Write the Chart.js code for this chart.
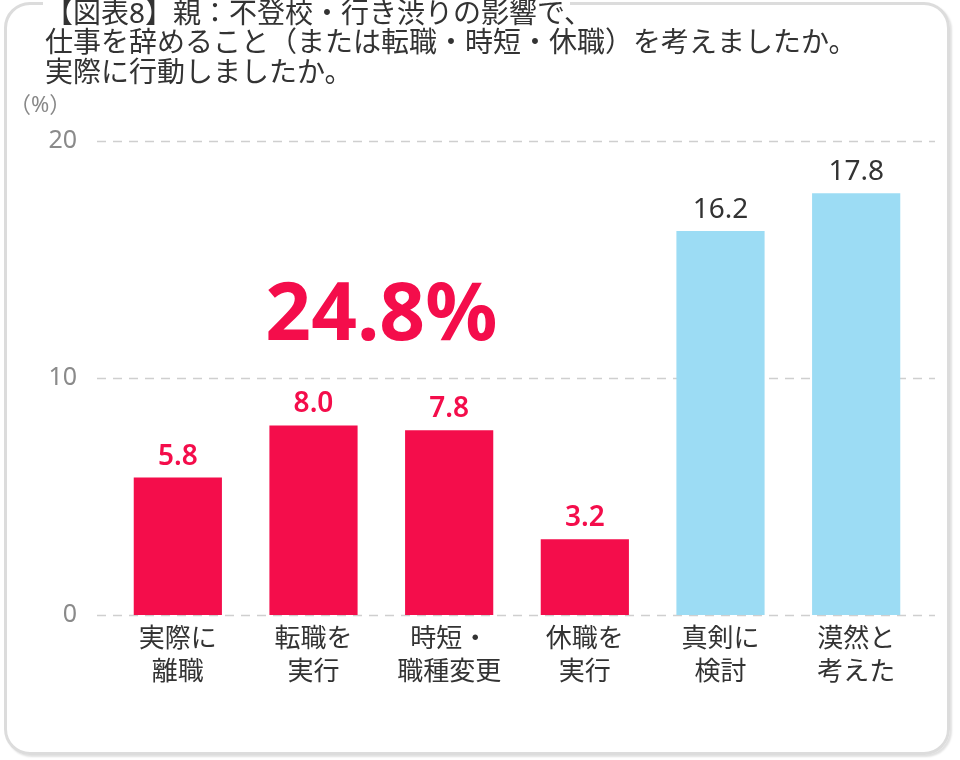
<!DOCTYPE html>
<html lang="ja">
<head>
<meta charset="utf-8">
<script src="https://cdn.jsdelivr.net/npm/chart.js@4"></script>
<style>
 html, body { margin: 0; padding: 0; background: #fff; }
 #cadre { position: absolute; left: 4px; top: 2px; width: 946px; height: 753px; box-sizing: border-box;
          border: 3px solid #dcdcdc; border-radius: 26px; box-shadow: 2px 2px 2px rgba(0,0,0,0.12); }
 #zone  { position: absolute; left: 0; top: 0; width: 960px; height: 760px; }
</style>
</head>
<body>
<div id="cadre"></div>
<div id="zone"><canvas id="idGraphe"></canvas></div>
<script>
/********************************* Données du graphe **************************************************************************/
 var titre      = [ "【図表8】親：不登校・行き渋りの影響で、",
                    "仕事を辞めること（または転職・時短・休職）を考えましたか。",
                    "実際に行動しましたか。" ];
 var unite      = "（%）";
 var categories = [ [ "実際に", "離職" ], [ "転職を", "実行" ], [ "時短・", "職種変更" ],
                    [ "休職を", "実行" ], [ "真剣に", "検討" ], [ "漠然と", "考えた" ] ];
 var valeurs    = [ 5.8, 8.0, 7.8, 3.2, 16.2, 17.8 ];
 var agi        = [ true, true, true, true, false, false ];               /* true = a réellement agi, false = a seulement envisagé */
 var ticks_y    = [ 0, 10, 20 ];

 var ROUGE = "#f40d4b";
 var BLEU  = "#9cdcf4";
 var FONTE = '"Noto Sans", "Noto Sans CJK JP", sans-serif';

/********************************* Lignes pointillées de la grille (débordent un peu de la zone) ******************************/
 var grille_plugin =
  { id: "grille",
    beforeDraw: function (chart)
     { var ctx = chart.ctx;
       ctx.save();
       ctx.fillStyle = "#fff";                                              /* Le titre masque le haut du cadre */
       ctx.fillRect ( 43, 0, 527, 9 );
       ctx.restore();
     },
    beforeDatasetsDraw: function (chart)
     { var ctx = chart.ctx, y = chart.scales.y, area = chart.chartArea;
       ctx.save();
       ctx.strokeStyle = "#cfcfcf";
       ctx.lineWidth = 1.5;
       ctx.setLineDash ( [ 9, 7 ] );
       ticks_y.forEach ( function (v)
        { var py = Math.round(y.getPixelForValue(v)) + 0.5;
          ctx.beginPath(); ctx.moveTo ( area.left - 13, py ); ctx.lineTo ( area.right + 11, py ); ctx.stroke();
        });
       ctx.restore();
     }
  };

/********************************* Valeurs au dessus des barres + total + unité ***********************************************/
 var etiquettes_plugin =
  { id: "etiquettes",
    afterDatasetsDraw: function (chart)
     { var ctx = chart.ctx, meta = chart.getDatasetMeta(0), x = chart.scales.x, y = chart.scales.y;
       ctx.save();
       ctx.textAlign = "center";
       ctx.textBaseline = "alphabetic";
       meta.data.forEach ( function (bar, i)
        { ctx.fillStyle = agi[i] ? ROUGE : "#333";
          ctx.font = (agi[i] ? "600 " : "400 ") + "28px " + FONTE;
          ctx.fillText ( valeurs[i].toFixed(1), bar.x, bar.y - 13 );
        });

       var total = 0, somme_x = 0, nb = 0;                                     /* Total de ceux qui ont agi */
       for (var i=0; i<valeurs.length; i++)
        { if (!agi[i]) continue;
          total += valeurs[i]; somme_x += x.getPixelForValue(i); nb++;
        }
       ctx.fillStyle = ROUGE;
       ctx.font = "700 80px " + FONTE;
       ctx.fillText ( total.toFixed(1) + "%", somme_x / nb, y.getPixelForValue(11.6) );

       ctx.fillStyle = "#888";
       ctx.font = "400 22px " + FONTE;
       ctx.textAlign = "left";
       ctx.textBaseline = "middle";
       ctx.fillText ( unite, 9, 106 );
       ctx.restore();
     }
  };

/********************************* Création du graphe *************************************************************************/
 var data = { labels: categories,
              datasets: [ { data: valeurs,
                            backgroundColor: agi.map( function (a) { return( a ? ROUGE : BLEU ); } ),
                            borderWidth: 0,
                            barPercentage: 0.65,
                            categoryPercentage: 1.0
                          } ]
            };

 var options = { responsive: true,
                 maintainAspectRatio: false,
                 animation: false,
                 layout: { padding: { left: 45, right: 36, top: 0, bottom: 0 } },
                 scales: { x: { grid: { display: false }, border: { display: false },
                                ticks: { color: "#333", padding: 0, maxRotation: 0, autoSkip: false,
                                         font: { family: FONTE, size: 26, lineHeight: 1.27 } },
                                afterFit: function (scale) { scale.height = 145; }
                              },
                           y: { min: 0, max: 20,
                                grid: { display: false }, border: { display: false },
                                afterBuildTicks: function (scale) { scale.ticks = ticks_y.map( function (v) { return { value: v }; } ); },
                                ticks: { color: "#8a8a8a", padding: 25, font: { family: FONTE, size: 25 } },
                                afterFit: function (scale) { scale.width = 65; }
                              }
                         },
                 plugins: { legend: { display: false },
                            tooltip: { enabled: false },
                            title: { display: true, text: titre, align: "start", color: "#333",
                                     font: { family: FONTE, size: 28, weight: "normal", lineHeight: 1.06 },
                                     padding: { top: 0, bottom: 52 } }
                          }
               };

 new Chart ( document.getElementById("idGraphe"),
             { type: "bar", data: data, options: options, plugins: [ grille_plugin, etiquettes_plugin ] } );
/*----------------------------------------------------------------------------------------------------------------------------*/
</script>
</body>
</html>
